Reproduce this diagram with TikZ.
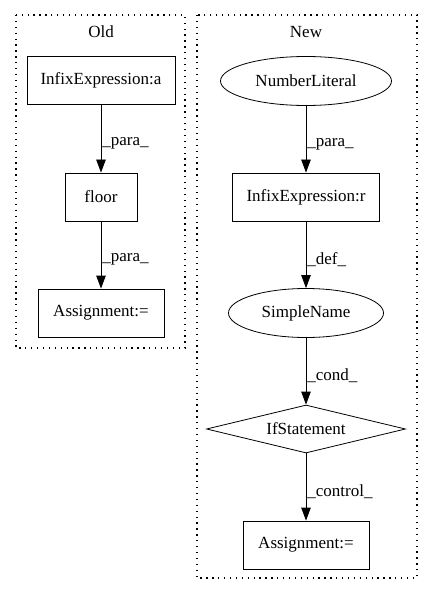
\documentclass[tikz,border=0pt]{standalone}
\usepackage{fontspec}
\setmainfont{Liberation Serif}
\usetikzlibrary{arrows.meta,shapes.geometric}

\tikzset{
	box/.style={draw, rectangle, line width=0.8pt, minimum height=48pt, inner xsep=9pt},
	oval/.style={draw, ellipse, line width=0.8pt, minimum height=49pt},
	cond/.style={draw, diamond, line width=0.8pt, aspect=4.1, inner sep=1pt},
	cluster/.style={draw, line width=1.1pt, dash pattern=on 1.3pt off 4.6pt},
	elabel/.style={anchor=west, inner sep=1pt, pos=0.57},
	flow/.style={-{Triangle[length=13pt,width=9.5pt]}, line width=0.8pt},
}

\begin{document}
\begin{tikzpicture}[x=1pt, y=-1pt, font=\fontsize{17pt}{19pt}\selectfont]
		\useasboundingbox (0, 0) rectangle (432, 596);
		
		% Old
		\draw[cluster] (16, 15) rectangle (185, 348);
		\node (oldtitle) at (101, 32) {Old};
		\node[box, minimum width=148pt] (infa) at (101, 80) {InfixExpression:a};
		\node[box, minimum width=72pt] (floor) at (101, 197) {floor};
		\node[box, minimum width=126pt] (assignold) at (101, 313) {Assignment:=};
		\draw[flow] (infa) -- node[elabel] {\_para\_} (floor);
		\draw[flow] (floor) -- node[elabel] {\_para\_} (assignold);
		
		% New
		\draw[cluster] (197, 15) rectangle (417, 578);
		\node (newtitle) at (306, 32) {New};
		\node[oval, minimum width=171pt] (numlit) at (306, 81) {NumberLiteral};
		\node[box, minimum width=147pt] (infr) at (306, 197) {InfixExpression:r};
		\node[oval, minimum width=155pt] (sname) at (306, 313) {SimpleName};
		\node[cond, minimum width=199pt, minimum height=48pt] (ifst) at (306, 429) {IfStatement};
		\node[box, minimum width=126pt] (assignnew) at (306, 545) {Assignment:=};
		\draw[flow] (numlit) -- node[elabel] {\_para\_} (infr);
		\draw[flow] (infr) -- node[elabel] {\_def\_} (sname);
		\draw[flow] (sname) -- node[elabel] {\_cond\_} (ifst);
		\draw[flow] (ifst) -- node[elabel] {\_control\_} (assignnew);
	\end{tikzpicture}
\end{document}
